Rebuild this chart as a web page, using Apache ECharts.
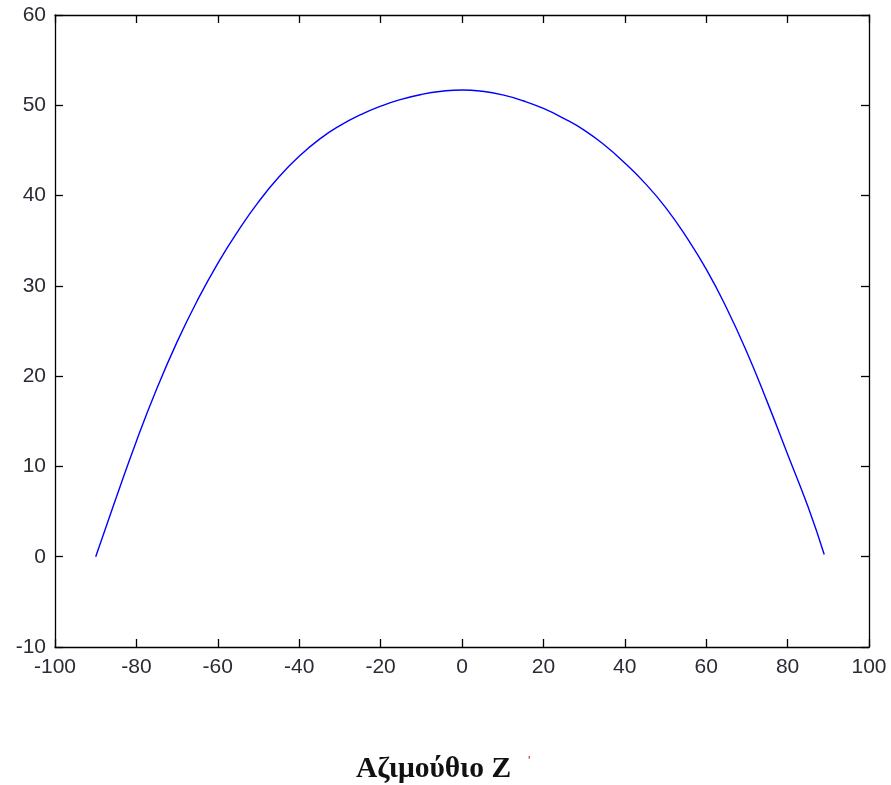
<!DOCTYPE html>
<html>
<head>
<meta charset="utf-8">
<script src="https://cdn.jsdelivr.net/npm/echarts@6/dist/echarts.min.js"></script>
<style>
html,body{margin:0;padding:0;background:#fff;}
#chart{width:891px;height:785px;}
</style>
</head>
<body>
<div id="chart"></div>
<script>
var azimuth = [-90,-85,-80,-75,-70,-65,-60,-55,-50,-45,-40,-35,-30,-25,-20,-15,-10,-5,0,5,10,15,20,25,30,35,40,45,50,55,60,65,70,75,80,85,89];
var altitude = [0,6.5,12.8,18.6,23.8,28.4,32.5,36.1,39.3,42.05,44.35,46.25,47.75,48.95,49.9,50.65,51.2,51.55,51.7,51.55,51.15,50.5,49.65,48.55,47.25,45.6,43.6,41.35,38.7,35.5,31.85,27.55,22.65,17.15,11.35,5.55,0.25];
var xTicks = {min:-100, max:100, interval:20};
var yTicks = {min:-10, max:60, interval:10};
var titleText = 'Αζιμούθιο Ζ';

var points = azimuth.map(function(a,i){return [a, altitude[i]];});
var chart = echarts.init(document.getElementById('chart'), null, {renderer:'canvas'});
var axisLine = {show:true, onZero:false, lineStyle:{color:'#000', width:1.3}};
var tick = {show:true, inside:true, length:8, lineStyle:{color:'#000', width:1.3}};
var lbl = {color:'#2e2a35', fontSize:21, fontFamily:'Liberation Sans, Arial, sans-serif'};
chart.setOption({
  animation:false,
  backgroundColor:'#fff',
  grid:{left:55, right:22, top:15, bottom:138, containLabel:false},
  xAxis:[
    {type:'value', position:'bottom', min:xTicks.min, max:xTicks.max, interval:xTicks.interval,
     axisLine:axisLine, axisTick:tick, splitLine:{show:false},
     axisLabel:Object.assign({margin:10}, lbl)},
    {type:'value', position:'top', min:xTicks.min, max:xTicks.max, interval:xTicks.interval,
     axisLine:axisLine, axisTick:tick, splitLine:{show:false}, axisLabel:{show:false}}
  ],
  yAxis:[
    {type:'value', position:'left', min:yTicks.min, max:yTicks.max, interval:yTicks.interval,
     axisLine:axisLine, axisTick:tick, splitLine:{show:false},
     axisLabel:Object.assign({margin:9}, lbl)},
    {type:'value', position:'right', min:yTicks.min, max:yTicks.max, interval:yTicks.interval,
     axisLine:axisLine, axisTick:tick, splitLine:{show:false}, axisLabel:{show:false}}
  ],
  series:[{
    type:'line', data:points, smooth:0.5, showSymbol:false,
    lineStyle:{color:'#0000ff', width:1.4}
  }],
  graphic:[
    {type:'text', left:356, top:754, style:{text:titleText, fill:'#111', font:'bold 29.5px "Liberation Serif", "Times New Roman", serif'}},
    {type:'text', left:528, top:755, style:{text:'\'', fill:'#d02010', font:'13px "Liberation Sans", sans-serif'}}
  ]
});
</script>
</body>
</html>
